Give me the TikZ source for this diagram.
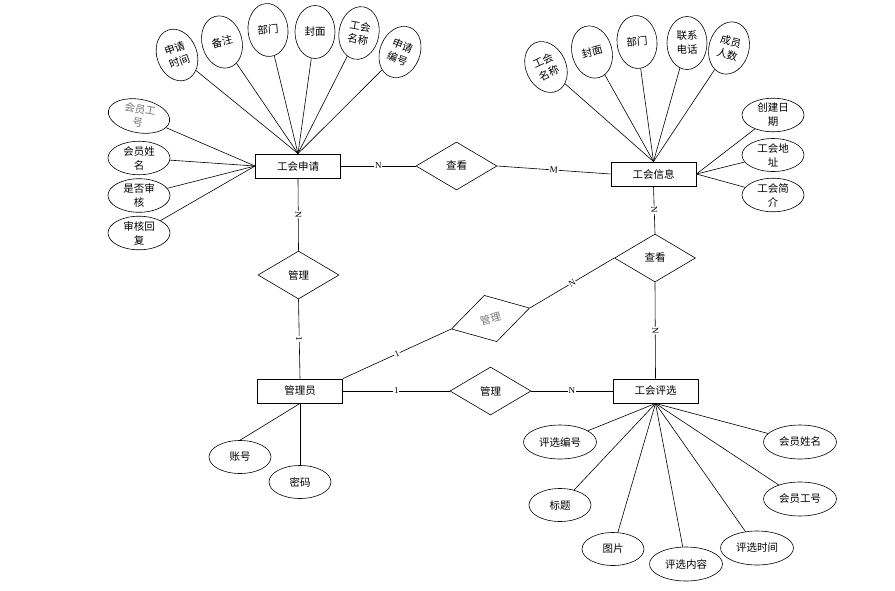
\documentclass[tikz,border=0pt]{standalone}
\usepackage{fontspec}
\setmainfont{Noto Sans CJK SC}
\newfontfamily\lblfont{Liberation Serif}
\usetikzlibrary{shapes.geometric}
\begin{document}
\begin{tikzpicture}[x=1pt,y=-1pt,
  every node/.style={font=\fontsize{10.5}{14}\selectfont, inner sep=0pt},
  ent/.style={draw, line width=0.9pt, minimum width=85pt, minimum height=24pt},
  rel/.style={draw, diamond, aspect=1.69, minimum width=81pt, minimum height=48pt, inner sep=0pt},
  attr/.style={draw, ellipse, align=center},
  tall/.style={attr, minimum width=40pt, minimum height=53pt},
  wide/.style={attr, minimum width=62pt, minimum height=33pt},
  wider/.style={attr, minimum width=73pt, minimum height=34pt},
  card/.style={font=\lblfont\fontsize{9}{10}\selectfont, fill=white, inner sep=0.6pt, sloped, midway},
  line width=0.6pt]
\useasboundingbox (0,0) rectangle (895,590);

% entities
\node[ent] (app) at (298,166) {工会申请};
\node[ent] (info) at (653.5,174) {工会信息};
\node[ent] (admin) at (300,391) {管理员};
\node[ent] (sel) at (655.5,391) {工会评选};

% relations
\node[rel] (look1) at (456.5,166) {查看};
\node[rel] (mg1) at (298.5,275) {管理};
\node[rel] (look2) at (655,258) {查看};
\node[rel, rotate=15, text=black!55] (mg2) at (490.5,318.5) {管理};
\node[rel] (mg3) at (490.5,391) {管理};

% attributes of 工会申请
\node[tall, rotate=20] (a1) at (177,55) {申请\\时间};
\node[tall, rotate=15] (a2) at (222,42) {备注};
\node[tall, rotate=5] (a3) at (268,30) {部门};
\node[tall] (a4) at (315,32) {封面};
\node[tall, rotate=-10] (a5) at (359,33) {工会\\名称};
\node[tall, rotate=-22] (a6) at (400,52) {申请\\编号};
\node[wide, rotate=-10, text=black!55] (a7) at (139,116) {会员工\\号};
\node[wide] (a8) at (139,158) {会员姓\\名};
\node[wide] (a9) at (139,195.5) {是否审\\核};
\node[wide] (a10) at (139,233) {审核回\\复};

% attributes of 工会信息
\node[tall, rotate=25] (b1) at (546,67) {工会\\名称};
\node[tall, rotate=15] (b2) at (592,52) {封面};
\node[tall, rotate=5] (b3) at (637,42) {部门};
\node[tall] (b4) at (687,43) {联系\\电话};
\node[tall, rotate=-15] (b5) at (729,48) {成员\\人数};
\node[wide] (b6) at (773,115) {创建日\\期};
\node[wide] (b7) at (773,155) {工会地\\址};
\node[wide] (b8) at (773,195) {工会简\\介};

% attributes of 管理员
\node[wide] (c1) at (240,457) {账号};
\node[wide] (c2) at (300,482) {密码};

% attributes of 工会评选
\node[wider] (d1) at (560,442) {评选编号};
\node[wide] (d2) at (560,505) {标题};
\node[wide] (d3) at (613,549) {图片};
\node[wider] (d4) at (686,564) {评选内容};
\node[wider] (d5) at (757,548) {评选时间};
\node[wider] (d6) at (800,499) {会员工号};
\node[wider] (d7) at (800,442) {会员姓名};

% attribute links
\foreach \n in {a1,a2,a3,a4,a5,a6} \draw (\n) -- (app.north);
\foreach \n in {a7,a8,a9,a10} \draw (\n) -- (app.west);
\foreach \n in {b1,b2,b3,b4,b5} \draw (\n) -- (info.north);
\foreach \n in {b6,b7,b8} \draw (\n) -- (info.east);
\draw (c1.north) -- (admin.south);
\draw (c2.north) -- (admin.south);
\foreach \n in {d1,d2,d3,d4,d5,d6,d7} \draw (\n) -- (sel.south);

% relationship links
\draw (app.east) -- node[card] {N} (look1.west);
\draw (look1.east) -- node[card] {M} (info.west);
\draw (app.south) -- node[card] {N} (mg1.north);
\draw (mg1.south) -- node[card] {1} (admin.north);
\draw (admin.north east) -- node[card] {1} (mg2.west);
\draw (mg2.east) -- node[card] {N} (look2.west);
\draw (info.south) -- node[card] {N} (look2.north);
\draw (look2.south) -- node[card] {N} (sel.north);
\draw (admin.east) -- node[card] {1} (mg3.west);
\draw (mg3.east) -- node[card] {N} (sel.west);
\end{tikzpicture}
\end{document}
